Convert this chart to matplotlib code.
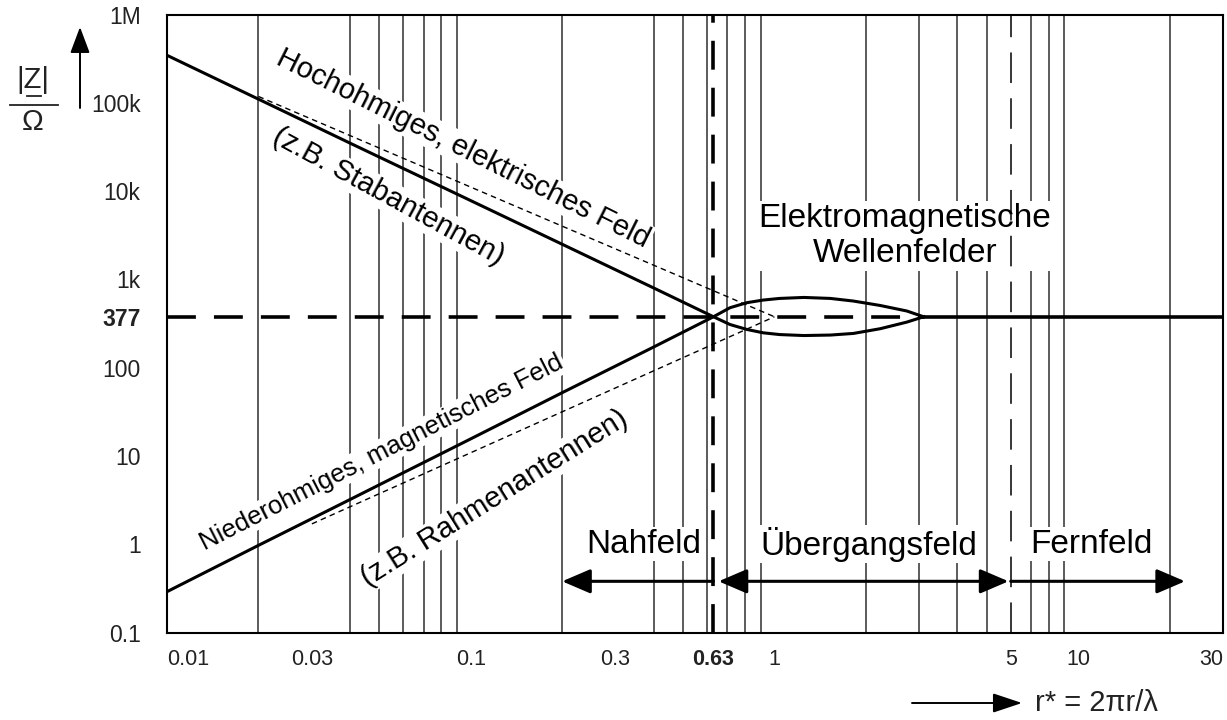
import matplotlib.pyplot as plt
from matplotlib.ticker import NullFormatter
from matplotlib.lines import Line2D
from matplotlib.patches import FancyArrowPatch

plt.rcParams['font.family'] = ['Liberation Sans', 'DejaVu Sans']

# key values
z0 = 377          # free space impedance
r_near = 0.63     # end of near field
r_far = 6.0       # dashed line of far field (labelled "5")
r_lens_end = 3.1  # where both curves meet 377 again

# electric (high impedance) field curve, near field + lower lens edge
x_e = [0.01, 0.02, 0.04, 0.1, 0.2, 0.4, 0.63,
       0.714, 0.811, 0.919, 1.04, 1.25, 1.53, 1.82, 2.23, 2.73, 3.1]
z_e = [345e3, 110e3, 35e3, 7.8e3, 2.5e3, 800, 377,
       308, 271, 248, 237, 231, 234, 244, 276, 328, 377]

# magnetic (low impedance) field curve, near field + upper lens edge
x_h = [0.01, 0.02, 0.04, 0.1, 0.2, 0.4, 0.63,
       0.714, 0.811, 0.919, 1.04, 1.25, 1.53, 1.82, 2.23, 2.73, 3.1]
z_h = [0.29, 0.97, 3.2, 15.6, 52, 171, 377,
       477, 544, 583, 608, 624, 608, 568, 506, 438, 377]

# thin dashed asymptotes
x_asym_e = [0.02, 1.0]
z_asym_e = [118e3, 377]
x_asym_h = [0.03, 1.0]
z_asym_h = [1.7, 377]

# grid
grid_x = [0.02, 0.03, 0.04, 0.05, 0.06, 0.07, 0.08, 0.09, 0.1,
          0.2, 0.3, 0.4, 0.5, 0.6, 0.7, 0.8, 0.9, 1,
          2, 3, 4, 5, 7, 8, 9, 10, 20]
grid_y = [1, 10, 100, 1e3, 1e4, 1e5]

xticks = [0.01, 0.03, 0.1, 0.3, 0.63, 1, 6.0, 10, 30]
xticklabels = ['0.01', '0.03', '0.1', '0.3', '0.63', '1', '5', '10', '30']
yticks = [0.1, 1, 10, 100, 377, 1e3, 1e4, 1e5, 1e6]
yticklabels = ['0.1', '1', '10', '100', '377', '1k', '10k', '100k', '1M']

fig = plt.figure(figsize=(12.27, 7.2), dpi=100)
ax = fig.add_axes([167/1227, 1 - 632.5/720, 1056/1227, 618/720])
ax.set_xscale('log')
ax.set_yscale('log')
ax.set_xlim(0.01, 30)
ax.set_ylim(0.1, 1e6)

ax.set_xticks(grid_x, minor=True)
ax.set_yticks(grid_y, minor=True)
ax.xaxis.set_minor_formatter(NullFormatter())
ax.yaxis.set_minor_formatter(NullFormatter())
ax.set_xticks(xticks, xticklabels)
ax.set_yticks(yticks, yticklabels)
ax.grid(False, which='major')
ax.grid(True, which='minor', color='#404040', lw=1.2)
ax.set_axisbelow(True)
ax.tick_params(which='both', length=0)
ax.tick_params(axis='x', pad=12, labelsize=15.5, labelcolor='#222')
ax.tick_params(axis='y', pad=19, labelsize=16.5, labelcolor='#222')
for s in ax.spines.values():
    s.set_linewidth(1.5)

xl = ax.get_xticklabels()
xl[0].set_ha('left')
xl[-1].set_ha('right')
xl[4].set_fontweight('bold')
ax.get_yticklabels()[4].set_fontweight('bold')

# boundaries
ax.axvline(r_near, color='k', lw=2.6, dashes=(8, 5), zorder=4)
ax.axvline(r_far, color='k', lw=1.1, dashes=(20, 10), zorder=4)

xmin, xmax = ax.get_xlim()
ax.plot([xmin, r_lens_end], [z0, z0], color='k', lw=2.6, dashes=(8, 5), zorder=4)
ax.plot([r_lens_end, xmax], [z0, z0], color='k', lw=2.6, zorder=4)

# curves
ax.plot(x_e, z_e, color='k', lw=2.2, zorder=5, solid_joinstyle='round')
ax.plot(x_h, z_h, color='k', lw=2.2, zorder=5, solid_joinstyle='round')
ax.plot(x_asym_e, z_asym_e, color='k', lw=1.0, dashes=(4, 3), zorder=4)
ax.plot(x_asym_h, z_asym_h, color='k', lw=1.0, dashes=(4, 3), zorder=4)

# field labels along the curves
box = dict(fc='white', ec='none', pad=1)
ax.text(0.0945, 30e3, 'Hochohmiges, elektrisches Feld', rotation=-26.5,
        rotation_mode='anchor', ha='center', va='center', fontsize=21,
        bbox=box, zorder=3)
ax.text(0.0534, 8.7e3, '(z.B. Stabantennen)', rotation=-28.5,
        rotation_mode='anchor', ha='center', va='center', fontsize=21,
        bbox=box, zorder=3)
ax.text(0.051, 11, 'Niederohmiges, magnetisches Feld', rotation=27,
        rotation_mode='anchor', ha='center', va='center', fontsize=18.5,
        bbox=box, zorder=3)
ax.text(0.12, 3.3, '(z.B. Rahmenantennen)', rotation=32,
        rotation_mode='anchor', ha='center', va='center', fontsize=21,
        bbox=box, zorder=3)
ax.text(2.69, 3.1e3, 'Elektromagnetische\nWellenfelder', ha='center',
        va='center', fontsize=24, linespacing=1.2, bbox=box, zorder=3)

# regions
y_arrow = 0.38
for xt, label in [(0.37, 'Nahfeld'), (2.05, 'Übergangsfeld'), (11.1, 'Fernfeld')]:
    ax.text(xt, 1, label, ha='center', va='center', fontsize=24,
            bbox=box, zorder=3)

arr = dict(color='k', lw=2.2, mutation_scale=25, shrinkA=0, shrinkB=0)
ax.annotate('', xy=(0.2, y_arrow), xytext=(r_near, y_arrow),
            arrowprops=dict(arrowstyle='-|>,head_length=0.7,head_width=0.3', **arr), zorder=6)
ax.annotate('', xy=(5.9, y_arrow), xytext=(0.655, y_arrow),
            arrowprops=dict(arrowstyle='<|-|>,head_length=0.7,head_width=0.3', **arr), zorder=6)
ax.annotate('', xy=(22.5, y_arrow), xytext=(r_far, y_arrow),
            arrowprops=dict(arrowstyle='-|>,head_length=0.7,head_width=0.3', **arr), zorder=6)

# y axis label |Z| / Omega with arrow
W, H = 1227, 720
fig.text(33/W, 1 - 80/H, '|Z|', ha='center', va='center', fontsize=21, color='#222')
fig.add_artist(Line2D([27/W, 41/W], [1 - 96/H, 1 - 96/H], color='#222', lw=1.3))
fig.add_artist(Line2D([10/W, 58/W], [1 - 105/H, 1 - 105/H], color='#222', lw=1.3))
fig.text(33/W, 1 - 122/H, 'Ω', ha='center', va='center', fontsize=21, color='#222')
fig.add_artist(FancyArrowPatch(
    (80/W, 1 - 108/H), (80/W, 1 - 27/H), transform=fig.transFigure,
    arrowstyle='-|>,head_length=0.8,head_width=0.3', mutation_scale=20,
    color='k', lw=1.4, shrinkA=0, shrinkB=0))

# x axis label with arrow
fig.add_artist(FancyArrowPatch(
    (912/W, 1 - 703/H), (1022/W, 1 - 703/H), transform=fig.transFigure,
    arrowstyle='-|>,head_length=0.9,head_width=0.3', mutation_scale=20,
    color='k', lw=1.4, shrinkA=0, shrinkB=0))
fig.text(1035/W, 1 - 703/H, 'r* = 2πr/λ', ha='left', va='center', fontsize=21, color='#222')

fig.savefig('out.png', dpi=100, facecolor='white')
